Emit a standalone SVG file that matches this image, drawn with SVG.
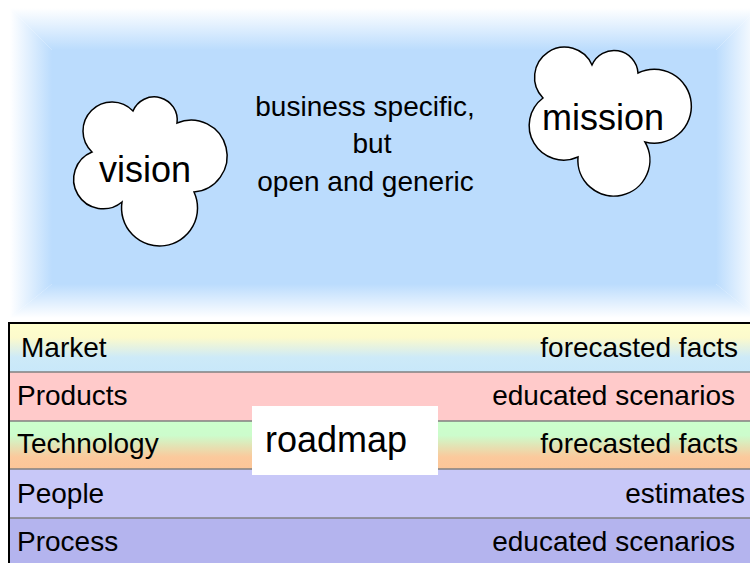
<svg xmlns="http://www.w3.org/2000/svg" width="750" height="563" viewBox="0 0 750 563">
<defs>
<style>
text{font-family:"Liberation Sans",Arial,sans-serif;fill:#000}
.t28{font-size:28px}
.t36{font-size:36px}
.cloud{fill:#fff;stroke:#000;stroke-width:1.5}
.sep{stroke:#808080;stroke-width:1.5}
</style>
<linearGradient id="gTop" gradientUnits="userSpaceOnUse" x1="0" y1="50" x2="0" y2="8"><stop offset="0" stop-color="#bbdcfd"/><stop offset="1" stop-color="#fff"/></linearGradient>
<linearGradient id="gBot" gradientUnits="userSpaceOnUse" x1="0" y1="284" x2="0" y2="318"><stop offset="0" stop-color="#bbdcfd"/><stop offset="1" stop-color="#fff"/></linearGradient>
<linearGradient id="gLeft" gradientUnits="userSpaceOnUse" x1="52" y1="0" x2="10" y2="0"><stop offset="0" stop-color="#bbdcfd"/><stop offset="1" stop-color="#fff"/></linearGradient>
<linearGradient id="gRight" gradientUnits="userSpaceOnUse" x1="716" y1="0" x2="758" y2="0"><stop offset="0" stop-color="#bbdcfd"/><stop offset="1" stop-color="#fff"/></linearGradient>
<linearGradient id="gMarket" x1="0" y1="0" x2="0" y2="1"><stop offset="0" stop-color="#ffffcc"/><stop offset="0.3" stop-color="#fcfacc"/><stop offset="0.7" stop-color="#cdeaf8"/><stop offset="1" stop-color="#c8e8fa"/></linearGradient>
<linearGradient id="gTech" x1="0" y1="0" x2="0" y2="1"><stop offset="0" stop-color="#ccffcc"/><stop offset="0.3" stop-color="#ccfccc"/><stop offset="0.75" stop-color="#fbc99c"/><stop offset="1" stop-color="#fcc698"/></linearGradient>
</defs>
<g id="panel">
<rect x="52" y="50" width="664" height="234" fill="#bbdcfd"/>
<polygon points="10,8 758,8 716,50 52,50" fill="url(#gTop)"/>
<polygon points="52,284 716,284 758,318 10,318" fill="url(#gBot)"/>
<polygon points="10,8 52,50 52,284 10,318" fill="url(#gLeft)"/>
<polygon points="758,8 716,50 716,284 758,318" fill="url(#gRight)"/>
</g>
<g id="vision">
<path class="cloud" d="M92,152 A29,29 0 1 1 133,111 A23,23 0 0 1 177,123 A36,36 0 1 1 194,192 A38,38 0 1 1 122,202 A29.5,29.5 0 1 1 92,152 Z"/>
<text class="t36" x="145" y="182" text-anchor="middle">vision</text>
</g>
<g id="mission">
<path class="cloud" d="M543,98 A30,30 0 1 1 592,65 A24,24 0 0 1 638,73 A37,37 0 1 1 645,142 A36,36 0 1 1 578,157 A34.5,34.5 0 0 1 543,98 Z"/>
<text class="t36" x="603" y="130" text-anchor="middle">mission</text>
</g>
<g id="statement">
<text class="t28" x="365" y="115.5" text-anchor="middle">business specific,</text>
<text class="t28" x="372" y="153" text-anchor="middle">but</text>
<text class="t28" x="365.5" y="190.5" text-anchor="middle">open and generic</text>
</g>
<g id="roadmap-table">
<g id="row-market"><rect x="9" y="323" width="760" height="49" fill="url(#gMarket)"/><text class="t28" x="21" y="357">Market</text><text class="t28" x="738" y="357" text-anchor="end">forecasted facts</text></g>
<g id="row-products"><rect x="9" y="372" width="760" height="49" fill="#ffcaca"/><text class="t28" x="17" y="405">Products</text><text class="t28" x="735" y="405" text-anchor="end">educated scenarios</text></g>
<g id="row-technology"><rect x="9" y="421" width="760" height="48" fill="url(#gTech)"/><text class="t28" x="17" y="453">Technology</text><text class="t28" x="738" y="453" text-anchor="end">forecasted facts</text></g>
<g id="row-people"><rect x="9" y="469" width="760" height="49" fill="#c8c8f8"/><text class="t28" x="17" y="503">People</text><text class="t28" x="745" y="503" text-anchor="end">estimates</text></g>
<g id="row-process"><rect x="9" y="518" width="760" height="50" fill="#b4b4ee"/><text class="t28" x="17" y="551">Process</text><text class="t28" x="735" y="551" text-anchor="end">educated scenarios</text></g>
<line class="sep" x1="9" y1="372" x2="769" y2="372"/>
<line class="sep" x1="9" y1="421" x2="769" y2="421"/>
<line class="sep" x1="9" y1="469" x2="769" y2="469"/>
<line class="sep" x1="9" y1="518" x2="769" y2="518"/>
<rect x="9" y="323" width="770" height="260" fill="none" stroke="#000" stroke-width="2"/>
</g>
<g id="roadmap-label">
<rect x="252" y="406" width="186" height="69" fill="#fff"/>
<text class="t36" x="265" y="452">roadmap</text>
</g>
</svg>
